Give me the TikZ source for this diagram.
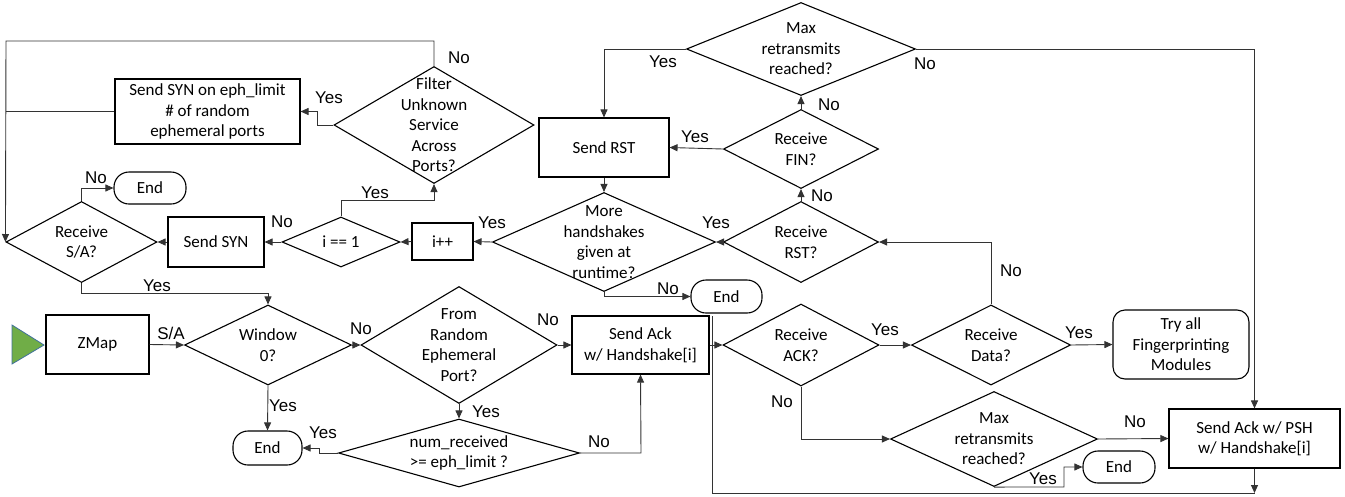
\documentclass[tikz,border=0pt]{standalone}
\usepackage{fontspec}
\setmainfont{Carlito}
\newfontfamily\lblfont{Liberation Sans}
\usetikzlibrary{shapes.geometric,arrows.meta}
\tikzset{
 shp/.style={draw=black, line width=1.1pt},
 dia/.style={shp, diamond, inner sep=0pt},
 txt/.style={align=center, font=\fontsize{17}{20.5}\selectfont, inner sep=0pt},
 box/.style={shp, rectangle, inner sep=0pt, align=center, font=\fontsize{17}{20.5}\selectfont},
 term/.style={box, rounded corners=15pt},
 lbl/.style={font=\lblfont\fontsize{17}{18}\selectfont, inner sep=0pt},
 con/.style={draw=black!80, line width=0.9pt},
 arr/.style={con, -{Triangle[length=8pt,width=7pt]}},
}
\begin{document}
\begin{tikzpicture}[x=1pt,y=-1pt]
\useasboundingbox (0,0) rectangle (1345,496);
% diamonds
\node[dia, minimum width=200pt, minimum height=117pt, label={[txt]center:{Filter\\Unknown\\Service\\Across\\Ports?}}] (filt) at (434,125) {};
\node[dia, minimum width=151pt, minimum height=81pt, label={[txt]center:{Receive\\S/A?}}] (rsa) at (81.5,242) {};
\node[dia, minimum width=118pt, minimum height=50pt, label={[txt]center:{i == 1}}] (ieq) at (341,242) {};
\node[dia, minimum width=223pt, minimum height=99pt, label={[txt]center:{More\\handshakes\\given at\\runtime?}}] (more) at (604,242) {};
\node[dia, minimum width=229pt, minimum height=93pt, label={[txt]center:{Max\\retransmits\\reached?}}] (maxa) at (801,49) {};
\node[dia, minimum width=155pt, minimum height=79pt, label={[txt]center:{Receive\\FIN?}}] (fin) at (801,149) {};
\node[dia, minimum width=155pt, minimum height=81pt, label={[txt]center:{Receive\\RST?}}] (rrst) at (801,242) {};
\node[dia, minimum width=167pt, minimum height=80pt, label={[txt]center:{Window\\0?}}] (win) at (268,345) {};
\node[dia, minimum width=196pt, minimum height=117pt, label={[txt]center:{From\\Random\\Ephemeral\\Port?}}] (from) at (459,345) {};
\node[dia, minimum width=241pt, minimum height=68pt, label={[txt]center:{num\_received\\>= eph\_limit ?}}] (num) at (459,453) {};
\node[dia, minimum width=156pt, minimum height=82pt, label={[txt]center:{Receive\\ACK?}}] (ack) at (801,345) {};
\node[dia, minimum width=159pt, minimum height=80pt, label={[txt]center:{Receive\\Data?}}] (data) at (991,345) {};
\node[dia, minimum width=207pt, minimum height=95pt, label={[txt]center:{Max\\retransmits\\reached?}}] (maxb) at (994,439) {};
% boxes
\node[box, minimum width=185pt, minimum height=65pt] (syneph) at (207.5,111.5) {Send SYN on eph\_limit\\\# of random\\ephemeral ports};
\node[term, minimum width=72pt, minimum height=32pt] (enda) at (150,188) {End};
\node[box, minimum width=96pt, minimum height=50pt] (syn) at (216,242) {Send SYN};
\node[box, minimum width=61pt, minimum height=37pt] (ipp) at (442.5,241.5) {i++};
\node[box, minimum width=130pt, minimum height=59pt] (rst) at (604,147.5) {Send RST};
\node[term, minimum width=71pt, minimum height=33pt] (endb) at (726.5,296.5) {End};
\node[box, minimum width=103pt, minimum height=59pt] (zmap) at (97.5,344.5) {ZMap};
\node[box, minimum width=137pt, minimum height=58pt] (sack) at (640.5,345) {Send Ack\\w/ Handshake[i]};
\node[box, rounded corners=12pt, minimum width=136pt, minimum height=69pt] (try) at (1181,344.5) {Try all\\Fingerprinting\\Modules};
\node[term, minimum width=69pt, minimum height=34pt] (endc) at (267.5,448) {End};
\node[term, minimum width=72pt, minimum height=32pt] (endd) at (1119,467) {End};
\node[box, minimum width=171pt, minimum height=59pt] (psh) at (1254.5,438.5) {Send Ack w/ PSH\\w/ Handshake[i]};
% start triangle
\fill[fill={rgb,255:red,112;green,173;blue,71}, draw={rgb,255:red,65;green,113;blue,156}, line width=0.8pt] (12,325) -- (44,345) -- (12,364) -- cycle;
% coordinates
\coordinate (tl) at (6,41);
\coordinate (tr) at (filt.north |- tl);
\coordinate (bl) at (712,493);
\coordinate (br) at (psh.south |- bl);
% connectors
\draw[arr] (filt.north) -- (tr) -- (tl) -- (rsa.west);
\draw[con] (syneph.west) -- (syneph.west -| tl);
\draw[arr] (filt.west) -- (317,125) -- (317,111.5) -- (syneph.east);
\draw[arr] (rsa.north) -- (rsa.north |- enda.west) -- (enda.west);
\draw[arr] (syn.west) -- (rsa.east);
\draw[arr] (ieq.west) -- (syn.east);
\draw[arr] (ieq.north) -- (341,200) -- (434,200) -- (filt.south);
\draw[arr] (ipp.west) -- (ieq.east);
\draw[arr] (more.west) -- (ipp.east);
\draw[arr] (rst.south) -- (more.north);
\draw[arr] (more.south) -- (more.south |- endb.west) -- (endb.west);
\draw[arr] (maxa.west) -- (maxa.west -| rst.north) -- (rst.north);
\draw[arr] (maxa.east) -- (maxa.east -| psh.north) -- (psh.north);
\draw[arr] (fin.west) -- (rst.east);
\draw[arr] (fin.north) -- (maxa.south);
\draw[arr] (rrst.north) -- (fin.south);
\draw[arr] (rrst.west) -- (more.east);
\draw[arr] (data.north) -- (data.north |- rrst.east) -- (rrst.east);
\draw[arr] (data.east) -- (try.west);
\draw[arr] (ack.east) -- (data.west);
\draw[arr] (ack.south) -- (ack.south |- maxb.west) -- (maxb.west);
\draw[arr] (maxb.east) -- (psh.west);
\draw[arr] (maxb.south) -- (1064,487) -- (1064,467) -- (endd.west);
\draw[arr] (psh.south) -- (br);
\draw[con] (712,316) -- (bl) -- (br);
\draw[arr] (sack.east) -- (ack.west);
\draw[arr] (rsa.south) -- (81.5,293) -- (268,293) -- (win.north);
\draw[arr] (zmap.east) -- (win.west);
\draw[arr] (win.south) -- (endc.north);
\draw[arr] (win.east) -- (from.west);
\draw[arr] (from.east) -- (sack.west);
\draw[arr] (from.south) -- (num.north);
\draw[arr] (num.west) -- (319,453) -- (319,448) -- (endc.east);
\draw[arr] (num.east) -- (641,453) -- (sack.south);
% labels
\node[lbl] (l1) at (459,58) {No};
\node[lbl] (l2) at (329,98) {Yes};
\node[lbl] (l3) at (96,178) {No};
\node[lbl] (l4) at (282,222) {No};
\node[lbl] (l5) at (375,193) {Yes};
\node[lbl] (l6) at (492,223) {Yes};
\node[lbl] (l7) at (668,289) {No};
\node[lbl] (l8) at (663,62) {Yes};
\node[lbl] (l9) at (925,64) {No};
\node[lbl] (l10) at (695,137) {Yes};
\node[lbl] (l11) at (829,105) {No};
\node[lbl] (l12) at (822,196) {No};
\node[lbl] (l13) at (716,223) {Yes};
\node[lbl] (l14) at (1011,271) {No};
\node[lbl] (l15) at (1079,333) {Yes};
\node[lbl] (l16) at (885,330) {Yes};
\node[lbl] (l17) at (782,402) {No};
\node[lbl] (l18) at (1135,422) {No};
\node[lbl] (l19) at (1043,479) {Yes};
\node[lbl] (l20) at (157,286) {Yes};
\node[lbl] (l21) at (171,333) {S/A};
\node[lbl] (l22) at (283,406) {Yes};
\node[lbl] (l23) at (361,329) {No};
\node[lbl] (l24) at (548,320) {No};
\node[lbl] (l25) at (486,412) {Yes};
\node[lbl] (l26) at (323,433) {Yes};
\node[lbl] (l27) at (599,442) {No};
\end{tikzpicture}
\end{document}
